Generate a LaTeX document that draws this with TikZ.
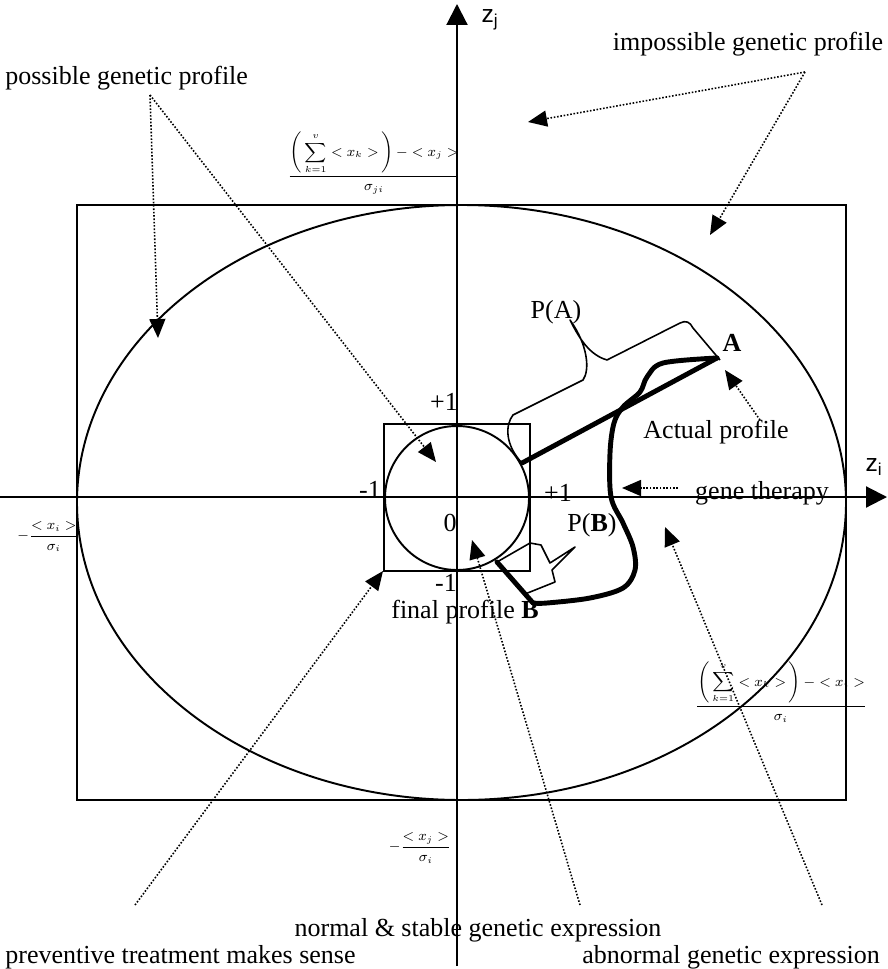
\documentclass[tikz,border=0pt]{standalone}
\usepackage{amsmath}
\usepackage{fontspec}
\setmainfont{Liberation Serif}
\newfontfamily\axisfont{Liberation Sans}
\usetikzlibrary{arrows.meta, calc}

\begin{document}
\begin{tikzpicture}[x=0.02cm, y=-0.02cm,
    lbl/.style={font=\fontsize{14.8}{17}\selectfont, inner sep=0pt},
    axislbl/.style={font=\axisfont\fontsize{14}{16}\selectfont, inner sep=0pt},
    fraclbl/.style={font=\fontsize{7.8}{9.5}\selectfont, inner sep=0pt},
    ptr/.style={densely dotted, line width=0.9pt, -{Triangle[length=0.38cm, width=0.32cm]}},
    axisline/.style={line width=1.2pt, -{Triangle[length=0.42cm, width=0.42cm]}},
    box/.style={line width=1.1pt},
    trail/.style={line width=2.8pt, line cap=round, line join=round},
    callout/.style={line width=0.9pt, line join=round}]

    % Canvas
    \useasboundingbox (0,0) rectangle (887,969);

    % Axes
    \coordinate (xl) at (0,497);
    \coordinate (xr) at (887,497);
    \coordinate (yb) at (457,966);
    \coordinate (yt) at (457,4);
    \draw[axisline] (xl) -- (xr);
    \draw[axisline] (yb) -- (yt);
    \node[axislbl] (zj) at (490,20) {z\textsubscript{j}};
    \node[axislbl] (zi) at (874,467) {z\textsubscript{i}};

    % Bounds of the profile space
    \draw[box] (77,205) rectangle (846,800);
    \draw[box] (461.5,502.5) ellipse [x radius=384.5, y radius=297.5];

    % Unit square and circle
    \draw[box] (384,424) rectangle (530,571);
    \draw[box] (457,498) circle [radius=72];
    \node[lbl] (ptop) at (444,402) {+1};
    \node[lbl] (mleft) at (370,490) {-1};
    \node[lbl] (pright) at (558,493) {+1};
    \node[lbl] (zero) at (450,523) {0};
    \node[lbl] (mbot) at (446,583) {-1};

    % Limits on the axes
    \node[fraclbl] (limtop) at (374,163)
        {$\dfrac{\left(\,\displaystyle\sum_{k=1}^{v}<x_k>\,\right)-<x_j>}{\sigma_{ji}}$};
    \node[fraclbl] (limright) at (781,692)
        {$\dfrac{\left(\,\displaystyle\sum_{k=1}^{v}<x_k>\,\right)-<x_i>}{\sigma_i}$};
    \node[fraclbl] (limleft) at (48,537) {$-\dfrac{<x_i>}{\sigma_i}$};
    \node[fraclbl] (limbot) at (420,848) {$-\dfrac{<x_j>}{\sigma_i}$};

    % Profiles and path of the therapy
    \coordinate (ptA) at (717,358);
    \coordinate (ptB) at (533,603);
    \coordinate (onA) at (522,463);
    \coordinate (onB) at (497,562);
    \draw[trail] (onA) -- (ptA);
    \draw[trail] (onB) -- (ptB);
    \draw[trail] plot[smooth, tension=0.55] coordinates {(717,358) (663,363) (647,377) (640,392)
        (623,407) (614,423) (610,453) (611,497) (623,523) (633,547) (635,570) (623,588)
        (590,598) (547,603) (533,603)};
    \node[lbl, font=\fontsize{14.8}{17}\selectfont\bfseries] (lblA) at (732,343) {A};
    \node[lbl] (lblB) at (465,612) {final profile \textbf{B}};

    % Callouts
    \draw[callout] (onA) .. controls (505,445) and (505,425) .. (513,415) -- (583,380)
        .. controls (590,370) and (588,345) .. (570,320)
        .. controls (580,340) and (590,355) .. (607,360) -- (680,323)
        .. controls (686,320) and (690,322) .. (693,328) -- (720,360);
    \node[lbl] (pA) at (556,312) {P(A)};
    \draw[callout] (onB) -- (530,543) -- (541,545) -- (550,563) -- (575,547)
        -- (552,570) -- (555,582) -- (525,594);
    \node[lbl] (pB) at (592,525) {P(\textbf{B})};

    % Pointers
    \node[lbl, anchor=west] (possible) at (5,78) {possible genetic profile};
    \node[lbl] (impossible) at (748,44) {impossible genetic profile};
    \node[lbl] (actual) at (716,432) {Actual profile};
    \node[lbl] (therapy) at (762,493) {gene therapy};
    \node[lbl, anchor=west] (preventive) at (5,957) {preventive treatment makes sense};
    \node[lbl] (normal) at (478,930) {normal \& stable genetic expression};
    \node[lbl, anchor=west] (abnormal) at (582,957) {abnormal genetic expression};

    \coordinate (possSrc) at (150,95);
    \coordinate (imposSrc) at (805,72);
    \coordinate (actSrc) at (760,420);
    \coordinate (geneSrc) at (678,488);
    \coordinate (prevSrc) at (135,905);
    \coordinate (normSrc) at (580,905);
    \coordinate (abnSrc) at (822,905);

    \coordinate (possTipA) at (158,338);
    \coordinate (possTipB) at (436,462);
    \coordinate (imposTipA) at (528,122);
    \coordinate (imposTipB) at (710,235);
    \coordinate (actTip) at (725,370);
    \coordinate (geneTip) at (622,488);
    \coordinate (prevTip) at (383,571);
    \coordinate (normTip) at (472,540);
    \coordinate (abnTip) at (665,527);

    \draw[ptr] (possSrc) -- (possTipA);
    \draw[ptr] (possSrc) -- (possTipB);
    \draw[ptr] (imposSrc) -- (imposTipA);
    \draw[ptr] (imposSrc) -- (imposTipB);
    \draw[ptr] (actSrc) -- (actTip);
    \draw[ptr] (geneSrc) -- (geneTip);
    \draw[ptr] (prevSrc) -- (prevTip);
    \draw[ptr] (normSrc) -- (normTip);
    \draw[ptr] (abnSrc) -- (abnTip);
\end{tikzpicture}
\end{document}
